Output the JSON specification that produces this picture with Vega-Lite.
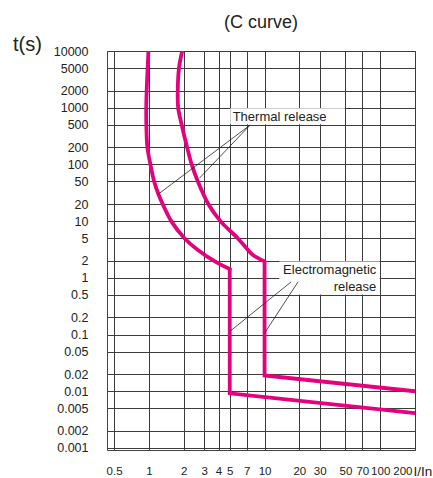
{
  "$schema": "https://vega.github.io/schema/vega-lite/v6.json",
  "width": 308,
  "height": 399,
  "autosize": {"type": "none"},
  "padding": {"left": 107, "top": 51, "right": 18, "bottom": 28},
  "background": "white",
  "title": {"text": "(C curve)", "font": "Liberation Sans", "fontSize": 18, "fontWeight": "normal", "color": "#222222", "anchor": "middle", "frame": "group", "baseline": "alphabetic", "offset": 1, "dy": 13},
  "config": {
    "font": "Liberation Sans",
    "view": {"stroke": "#444444", "strokeWidth": 1}
  },
  "datasets": {
    "curves": [
      {"curve": "C1T", "seq": 1, "I": 0.99, "t": 10000},
      {"curve": "C1T", "seq": 2, "I": 0.975, "t": 5000},
      {"curve": "C1T", "seq": 3, "I": 0.955, "t": 1900},
      {"curve": "C1T", "seq": 4, "I": 0.948, "t": 1000},
      {"curve": "C1T", "seq": 5, "I": 0.95, "t": 500},
      {"curve": "C1T", "seq": 6, "I": 0.97, "t": 200},
      {"curve": "C1T", "seq": 7, "I": 1.03, "t": 100},
      {"curve": "C1T", "seq": 8, "I": 1.11, "t": 50},
      {"curve": "C1T", "seq": 9, "I": 1.2, "t": 31},
      {"curve": "C1T", "seq": 10, "I": 1.33, "t": 19},
      {"curve": "C1T", "seq": 11, "I": 1.57, "t": 9.8},
      {"curve": "C1T", "seq": 12, "I": 2.03, "t": 5},
      {"curve": "C1T", "seq": 13, "I": 2.65, "t": 3.1},
      {"curve": "C1T", "seq": 14, "I": 3.85, "t": 1.87},
      {"curve": "C1T", "seq": 15, "I": 5, "t": 1.43},
      {"curve": "C1M", "seq": 1, "I": 5, "t": 1.43},
      {"curve": "C1M", "seq": 2, "I": 5, "t": 0.0092},
      {"curve": "C1M", "seq": 3, "I": 200, "t": 0.0041},
      {"curve": "C2T", "seq": 1, "I": 1.94, "t": 10000},
      {"curve": "C2T", "seq": 2, "I": 1.82, "t": 5000},
      {"curve": "C2T", "seq": 3, "I": 1.775, "t": 1900},
      {"curve": "C2T", "seq": 4, "I": 1.79, "t": 1000},
      {"curve": "C2T", "seq": 5, "I": 1.92, "t": 500},
      {"curve": "C2T", "seq": 6, "I": 2.15, "t": 192},
      {"curve": "C2T", "seq": 7, "I": 2.35, "t": 98},
      {"curve": "C2T", "seq": 8, "I": 2.65, "t": 50},
      {"curve": "C2T", "seq": 9, "I": 3.3, "t": 19.2},
      {"curve": "C2T", "seq": 10, "I": 4.19, "t": 9.8},
      {"curve": "C2T", "seq": 11, "I": 5.86, "t": 5},
      {"curve": "C2T", "seq": 12, "I": 7, "t": 3.3},
      {"curve": "C2T", "seq": 13, "I": 8.0, "t": 2.5},
      {"curve": "C2T", "seq": 14, "I": 10, "t": 1.95},
      {"curve": "C2M", "seq": 1, "I": 10, "t": 1.95},
      {"curve": "C2M", "seq": 2, "I": 10, "t": 0.019},
      {"curve": "C2M", "seq": 3, "I": 200, "t": 0.01}
    ],
    "boxes": [
      {"box": "thermal", "I": 5.05, "I2": 49.5, "t": 510, "t2": 980},
      {"box": "electromagnetic", "I": 13.4, "I2": 99, "t": 0.51, "t2": 1.95}
    ],
    "leaders": [
      {"I": 7.5, "t": 495, "I2": 1.2, "t2": 29.7},
      {"I": 7.5, "t": 495, "I2": 2.73, "t2": 57},
      {"I": 17, "t": 0.85, "I2": 5.05, "t2": 0.115},
      {"I": 19.5, "t": 0.85, "I2": 10.1, "t2": 0.109}
    ],
    "notesLeft": [
      {"I": 5.3, "t": 690, "text": "Thermal release"}
    ],
    "notesRight": [
      {"I": 92.6, "t": 1.37, "text": "Electromagnetic"},
      {"I": 92.6, "t": 0.70, "text": "release"}
    ]
  },
  "layer": [
    {
      "data": {"name": "curves"},
      "transform": [{"filter": "indexof(datum.curve, 'T') > 0"}],
      "mark": {"type": "line", "color": "#E5007D", "strokeWidth": 3.8, "strokeCap": "round", "interpolate": "catmull-rom", "clip": true},
      "encoding": {
        "x": {
          "field": "I", "type": "quantitative",
          "scale": {"type": "log", "domain": [0.434, 200], "nice": false, "zero": false},
          "axis": {
            "values": [0.5, 1, 2, 3, 4, 5, 7, 10, 20, 30, 50, 70, 100, 200],
            "format": "~g", "grid": true, "gridColor": "#3c3c3c", "gridWidth": 1, "gridOpacity": 1,
            "ticks": false, "domain": false, "labelPadding": 15, "labelFontSize": 11.5, "labelColor": "#222222",
            "labelFlush": 1, "labelFlushOffset": -3, "labelOverlap": false,
            "title": "I/In", "titleX": 306, "titleY": 25, "titleAlign": "left", "titleBaseline": "alphabetic",
            "titleFontSize": 13.5, "titleFontWeight": "normal", "titleColor": "#222222", "titleLimit": 40
          }
        },
        "y": {
          "field": "t", "type": "quantitative",
          "scale": {"type": "log", "domain": [0.00092, 10000], "nice": false, "zero": false},
          "axis": {
            "values": [0.001, 0.002, 0.005, 0.01, 0.02, 0.05, 0.1, 0.2, 0.5, 1, 2, 5, 10, 20, 50, 100, 200, 500, 1000, 2000, 5000, 10000],
            "format": "~g", "grid": true, "gridColor": "#3c3c3c", "gridWidth": 1, "gridOpacity": 1,
            "ticks": false, "domain": false, "labelPadding": 19, "labelFontSize": 12.5, "labelColor": "#222222",
            "labelFlush": false, "labelOverlap": false,
            "title": "t(s)", "titleAngle": 0, "titleX": -80, "titleY": -1, "titleAlign": "center", "titleBaseline": "alphabetic",
            "titleFontSize": 20, "titleFontWeight": "normal", "titleColor": "#222222"
          }
        },
        "detail": {"field": "curve", "type": "nominal"},
        "order": {"field": "seq", "type": "quantitative"}
      }
    },
    {
      "data": {"name": "curves"},
      "transform": [{"filter": "indexof(datum.curve, 'M') > 0"}],
      "mark": {"type": "line", "color": "#E5007D", "strokeWidth": 3.8, "strokeCap": "round", "strokeJoin": "miter", "clip": true},
      "encoding": {
        "x": {"field": "I", "type": "quantitative"},
        "y": {"field": "t", "type": "quantitative"},
        "detail": {"field": "curve", "type": "nominal"},
        "order": {"field": "seq", "type": "quantitative"}
      }
    },
    {
      "data": {"name": "boxes"},
      "mark": {"type": "rect", "fill": "white", "stroke": null},
      "encoding": {
        "x": {"field": "I", "type": "quantitative"},
        "x2": {"field": "I2"},
        "y": {"field": "t", "type": "quantitative"},
        "y2": {"field": "t2"}
      }
    },
    {
      "data": {"name": "leaders"},
      "mark": {"type": "rule", "color": "#222222", "strokeWidth": 0.8},
      "encoding": {
        "x": {"field": "I", "type": "quantitative"},
        "y": {"field": "t", "type": "quantitative"},
        "x2": {"field": "I2"},
        "y2": {"field": "t2"}
      }
    },
    {
      "data": {"name": "notesLeft"},
      "mark": {"type": "text", "align": "left", "baseline": "middle", "fontSize": 13, "color": "#222222"},
      "encoding": {
        "x": {"field": "I", "type": "quantitative"},
        "y": {"field": "t", "type": "quantitative"},
        "text": {"field": "text"}
      }
    },
    {
      "data": {"name": "notesRight"},
      "mark": {"type": "text", "align": "right", "baseline": "middle", "fontSize": 13, "color": "#222222"},
      "encoding": {
        "x": {"field": "I", "type": "quantitative"},
        "y": {"field": "t", "type": "quantitative"},
        "text": {"field": "text"}
      }
    }
  ]
}
